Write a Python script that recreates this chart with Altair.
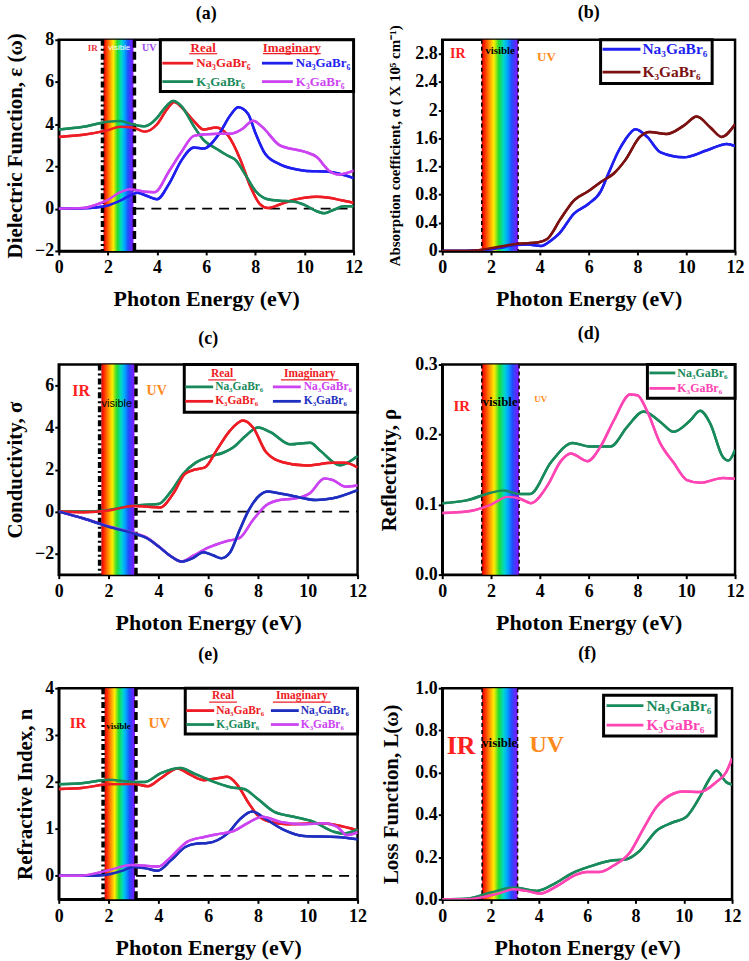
import altair as alt
import pandas as pd

SERIF = "Liberation Serif"
SANS = "Liberation Sans"
NA = "Na\u2083GaBr\u2086"
K = "K\u2083GaBr\u2086"

RED = "#ee1c25"; GREEN = "#198a5b"; BLUE = "#1f1ff0"; VIOLET = "#cc44f2"
MAROON = "#7b1111"; NAVY = "#1e2fc0"; PINK = "#ff45b3"; ORANGE = "#ff8a1c"

# ---------------- (a) dielectric function ----------------
a_re_na_x = [0, 1, 2, 2.5, 3, 3.5, 4, 4.4, 4.7, 5, 5.5, 5.9, 6.4, 6.9, 7.4, 7.8, 8.2, 8.5, 9, 9.5, 10, 10.5, 11, 11.5, 12]
a_re_na_y = [3.4, 3.5, 3.72, 3.88, 3.85, 3.65, 4.0, 4.7, 5.05, 4.8, 4.15, 3.75, 3.85, 3.45, 2.3, 1.05, 0.2, 0.03, 0.2, 0.4, 0.52, 0.57, 0.52, 0.4, 0.28]
a_re_k_x = [0, 1, 2, 2.5, 3, 3.5, 4, 4.3, 4.65, 5, 5.5, 5.9, 6.4, 6.9, 7.2, 7.6, 8.0, 8.5, 9, 9.5, 10, 10.5, 10.8, 11.2, 11.6, 12]
a_re_k_y = [3.75, 3.88, 4.12, 4.15, 4.0, 3.9, 4.3, 4.75, 5.1, 4.85, 3.9, 3.25, 2.85, 2.5, 2.3, 1.6, 0.85, 0.45, 0.38, 0.35, 0.18, -0.12, -0.22, -0.05, 0.12, 0.12]
a_im_na_x = [0, 1, 1.5, 2, 2.5, 3, 3.2, 3.6, 4, 4.5, 5, 5.5, 5.9, 6.5, 7, 7.3, 7.7, 8.0, 8.4, 9, 9.5, 10, 11, 12]
a_im_na_y = [0, 0.02, 0.06, 0.15, 0.38, 0.68, 0.75, 0.6, 0.45, 1.2, 2.3, 2.9, 2.85, 3.5, 4.45, 4.8, 4.5, 3.6, 2.6, 2.1, 1.9, 1.8, 1.75, 1.45]
a_im_k_x = [0, 1, 1.5, 2, 2.5, 2.9, 3.5, 3.9, 4.5, 5, 5.5, 6, 6.5, 7, 7.5, 7.9, 8.3, 9, 10, 10.5, 11, 11.4, 12]
a_im_k_y = [0, 0.03, 0.18, 0.42, 0.78, 0.92, 0.8, 0.78, 1.8, 2.7, 3.45, 3.52, 3.55, 3.55, 3.8, 4.17, 3.85, 3.0, 2.7, 2.45, 1.8, 1.62, 1.8]

# ---------------- (b) absorption ----------------
b_na_x = [0, 1, 1.5, 2, 2.5, 3, 3.5, 4.05, 4.5, 4.8, 5.4, 6, 6.5, 6.75, 7.24, 7.5, 7.92, 8.4, 8.95, 9.9, 10.85, 11.66, 12]
b_na_y = [0, 0, 0.005, 0.02, 0.05, 0.085, 0.09, 0.07, 0.16, 0.25, 0.53, 0.67, 0.85, 1.05, 1.43, 1.58, 1.73, 1.62, 1.4, 1.33, 1.43, 1.52, 1.49]
b_k_x = [0, 1, 1.5, 2, 2.5, 3, 3.5, 3.9, 4.3, 4.86, 5.4, 5.95, 6.5, 7.03, 7.5, 8.1, 8.5, 9.2, 9.9, 10.43, 11, 11.45, 12]
b_k_y = [0, 0, 0.01, 0.04, 0.07, 0.1, 0.11, 0.12, 0.17, 0.46, 0.72, 0.84, 0.98, 1.1, 1.29, 1.62, 1.69, 1.66, 1.78, 1.91, 1.75, 1.62, 1.8]

# ---------------- (c) conductivity ----------------
c_re_na_x = [0, 1, 2, 3, 3.5, 4, 4.5, 5, 5.5, 6, 6.6, 7, 7.5, 8, 8.5, 9.3, 10.1, 10.5, 11.3, 11.5, 12]
c_re_na_y = [0, 0.0, 0.08, 0.28, 0.33, 0.36, 0.95, 1.8, 2.33, 2.6, 2.8, 3.05, 3.6, 4.0, 3.78, 3.2, 3.28, 2.9, 2.2, 2.27, 2.65]
c_re_k_x = [0, 1, 2, 3, 3.5, 4.07, 4.6, 5.07, 5.47, 5.87, 6.33, 6.87, 7.4, 7.8, 8.33, 9, 9.93, 11, 11.5, 12]
c_re_k_y = [0, -0.03, 0.05, 0.27, 0.24, 0.2, 0.86, 1.8, 2.0, 2.1, 2.9, 3.84, 4.33, 4.0, 2.82, 2.35, 2.19, 2.32, 2.32, 2.1]
c_im_na_x = [0, 1, 2, 3, 3.5, 4, 4.47, 4.93, 5.4, 6, 6.73, 7.27, 7.8, 8.33, 8.87, 9.53, 10.07, 10.67, 11, 11.53, 12]
c_im_na_y = [0, -0.33, -0.7, -1.02, -1.22, -1.65, -2.1, -2.38, -2.1, -1.72, -1.41, -1.25, -0.4, 0.3, 0.55, 0.63, 0.86, 1.57, 1.5, 1.18, 1.25]
c_im_k_x = [0, 1, 2, 3, 3.5, 4, 4.47, 4.93, 5.4, 5.8, 6.2, 6.53, 6.87, 7.27, 7.6, 8.07, 8.4, 8.73, 9.4, 10.33, 11, 12]
c_im_k_y = [0, -0.33, -0.72, -1.04, -1.24, -1.65, -2.1, -2.38, -2.2, -1.93, -2.08, -2.22, -1.96, -0.86, 0, 0.78, 0.96, 0.9, 0.74, 0.55, 0.63, 1.02]

# ---------------- (d) reflectivity ----------------
d_na_x = [0, 1, 2, 2.5, 3.2, 3.6, 4.45, 5.35, 6, 6.9, 7.58, 8.26, 8.94, 9.48, 10.16, 10.57, 10.98, 11.5, 11.73, 12]
d_na_y = [0.102, 0.106, 0.117, 0.12, 0.115, 0.115, 0.16, 0.188, 0.183, 0.183, 0.211, 0.233, 0.218, 0.204, 0.22, 0.234, 0.216, 0.168, 0.163, 0.178]
d_k_x = [0, 1, 2, 2.68, 3.22, 3.63, 4.31, 4.86, 5.27, 5.95, 6.49, 7.03, 7.7, 8.0, 8.39, 8.94, 9.48, 10.03, 10.57, 11.5, 12]
d_k_y = [0.088, 0.09, 0.1, 0.111, 0.108, 0.102, 0.127, 0.162, 0.173, 0.162, 0.183, 0.22, 0.257, 0.256, 0.234, 0.187, 0.16, 0.135, 0.131, 0.138, 0.137]

# ---------------- (e) refractive index ----------------
e_re_na_x = [0, 1, 2, 3, 3.57, 4.1, 4.77, 5.3, 5.84, 6.37, 6.77, 7.17, 7.64, 7.97, 8.5, 9.17, 10.5, 11.17, 12]
e_re_na_y = [1.85, 1.88, 1.95, 1.96, 1.91, 2.08, 2.29, 2.15, 2.04, 2.08, 2.11, 1.94, 1.54, 1.3, 1.15, 1.1, 1.12, 1.08, 0.97]
e_re_k_x = [0, 1, 2, 3, 3.44, 4.1, 4.9, 5.44, 6.1, 6.9, 7.44, 7.97, 8.64, 9.44, 10.24, 11.04, 11.44, 12]
e_re_k_y = [1.95, 1.98, 2.05, 2.0, 2.0, 2.19, 2.3, 2.18, 2.03, 1.89, 1.85, 1.65, 1.37, 1.26, 1.15, 0.94, 0.9, 0.99]
e_im_na_x = [0, 1, 1.84, 2.5, 3, 3.5, 3.97, 4.5, 5.1, 5.57, 5.97, 6.77, 7.3, 7.77, 8.37, 9.04, 9.84, 11.17, 12]
e_im_na_y = [0, 0, 0.02, 0.1, 0.19, 0.16, 0.11, 0.33, 0.62, 0.69, 0.7, 0.9, 1.22, 1.37, 1.19, 0.98, 0.85, 0.83, 0.78]
e_im_k_x = [0, 1, 2, 2.9, 3.57, 4, 4.5, 5.17, 5.84, 6.5, 7.04, 7.57, 8.17, 8.9, 9.84, 10.64, 11.17, 11.57, 12]
e_im_k_y = [0, 0.01, 0.12, 0.23, 0.21, 0.2, 0.4, 0.73, 0.83, 0.9, 0.96, 1.12, 1.26, 1.15, 1.1, 1.12, 1.05, 0.87, 0.93]

# ---------------- (f) loss function ----------------
f_na_x = [0, 1, 2, 2.96, 3.92, 4.6, 5.43, 6.12, 6.95, 7.63, 8.18, 8.87, 9.56, 10.1, 10.66, 11.07, 11.35, 11.76, 12]
f_na_y = [0, 0.003, 0.032, 0.056, 0.04, 0.071, 0.127, 0.156, 0.183, 0.19, 0.23, 0.325, 0.365, 0.39, 0.484, 0.571, 0.61, 0.555, 0.543]
f_k_x = [0, 1, 1.58, 2.4, 2.96, 3.5, 4.06, 4.75, 5.5, 5.98, 6.53, 7.08, 7.77, 8.32, 8.87, 9.56, 9.97, 10.66, 11.35, 11.76, 12]
f_k_y = [0, 0, 0.008, 0.03, 0.048, 0.04, 0.027, 0.063, 0.115, 0.13, 0.13, 0.159, 0.222, 0.333, 0.437, 0.5, 0.511, 0.508, 0.556, 0.603, 0.667]

X_TICKS = [0, 2, 4, 6, 8, 10, 12]
SPECTRUM = [(0.0, "#e00000"), (0.08, "#ff2a00"), (0.2, "#ff8c00"), (0.33, "#ffee00"),
            (0.47, "#22dd33"), (0.6, "#00d8c8"), (0.7, "#00a8ff"), (0.82, "#2050ff"),
            (0.92, "#5a2cff"), (1.0, "#8a10ff")]

ONE = pd.DataFrame({"o": [0]})


def series_df(series):
    rows = []
    for name, xs, ys in series:
        for x, y in zip(xs, ys):
            rows.append({"E": x, "v": y, "s": name})
    return pd.DataFrame(rows)


def txt_data(x, y, text, color, size, font=SERIF, weight="bold"):
    return alt.Chart(ONE).mark_text(text=text, color=color, fontSize=size, font=font,
                                    fontWeight=weight, baseline="middle").encode(
        x=alt.datum(x), y=alt.datum(y))


def txt_px(x, y, text, color, size, align="left", weight="bold"):
    return alt.Chart(ONE).mark_text(text=text, color=color, fontSize=size, font=SERIF,
                                    fontWeight=weight, align=align, baseline="middle").encode(
        x=alt.value(x), y=alt.value(y))


def rule_px(x1, x2, y, color, width=2.5):
    return alt.Chart(ONE).mark_rule(color=color, strokeWidth=width).encode(
        x=alt.value(x1), x2=alt.value(x2), y=alt.value(y))


def box_px(x1, x2, y1, y2):
    return alt.Chart(ONE).mark_rect(fill="white", stroke="black", strokeWidth=3).encode(
        x=alt.value(x1), x2=alt.value(x2), y=alt.value(y1), y2=alt.value(y2))


def legend4(w, box_l, y_bot, hdr_y, hdr_real, hdr_imag, r1, r2, l1, t1, l2, t2, size, entries):
    # all x given as offsets from the right edge of the plot
    lay = [box_px(w - box_l, w, 0, y_bot)]
    lay.append(txt_px(w - hdr_real, hdr_y, "Real", RED, size, align="center"))
    lay.append(txt_px(w - hdr_imag, hdr_y, "Imaginary", RED, size, align="center"))
    lay.append(rule_px(w - hdr_real - 14, w - hdr_real + 14, hdr_y + 6, RED, 1.2))
    lay.append(rule_px(w - hdr_imag - 29, w - hdr_imag + 29, hdr_y + 6, RED, 1.2))
    spots = [(r1, l1, t1), (r1, l2, t2), (r2, l1, t1), (r2, l2, t2)]
    for (c, lab), (ly, lx, tx) in zip(entries, spots):
        lay.append(rule_px(w - lx[0], w - lx[1], ly, c, 2.8))
        lay.append(txt_px(w - tx, ly, lab, c, size))
    return lay


def legend2(w, box, rows, line_x, text_x, size, entries):
    lay = [box_px(w - box[0], w - box[1], box[2], box[3])]
    for (c, lab), ly in zip(entries, rows):
        lay.append(rule_px(w - line_x[0], w - line_x[1], ly, c, 2.8))
        lay.append(txt_px(w - text_x, ly, lab, c, size))
    return lay


def panel(w, h, title, title_dy, ytitle, ydomain, yticks, yfmt, series, colors, band, borders,
          thick, zero, annots, legend, ytitle_size=21, ytitle_pad=9):
    xs = alt.Scale(domain=[0, 12], nice=False)
    ys = alt.Scale(domain=ydomain, nice=False)
    df = series_df(series)
    names = [s[0] for s in series]
    grad = alt.Gradient(gradient="linear", x1=0, x2=1, y1=0, y2=0,
                        stops=[alt.GradientStop(color=c, offset=o) for o, c in SPECTRUM])
    yaxis = alt.Axis(values=yticks, tickCount=len(yticks) + 2, title=ytitle,
                     titleFontSize=ytitle_size, format=yfmt,
                     titlePadding=ytitle_pad, labelOverlap=False, labelSeparation=0)
    xaxis = alt.Axis(values=X_TICKS, tickCount=len(X_TICKS) + 2, title="Photon Energy (eV)",
                     labelOverlap=False)
    layers = []
    layers.append(alt.Chart(df).mark_line(strokeWidth=2.5, interpolate="monotone", clip=True).encode(
        x=alt.X("E:Q", scale=xs, axis=xaxis),
        y=alt.Y("v:Q", scale=ys, axis=yaxis),
        color=alt.Color("s:N", scale=alt.Scale(domain=names, range=colors), legend=None)))
    layers.append(alt.Chart(ONE).mark_rect(fill=grad).encode(
        x=alt.datum(band[0]), x2=alt.datum(band[1]), y=alt.value(0), y2=alt.value(h)))
    if thick:
        dashes = [[6, 3, 2, 3], [8, 4]]
        bw = 3.5
    else:
        dashes = [[4, 3], [4, 3]]
        bw = 1.5
    for bx, dsh in zip(borders, dashes):
        layers.append(alt.Chart(ONE).mark_rule(color="black", strokeWidth=bw, strokeDash=dsh).encode(
            x=alt.datum(bx), y=alt.value(0), y2=alt.value(h)))
    if zero:
        layers.append(alt.Chart(ONE).mark_rule(color="black", strokeWidth=1.8, strokeDash=[10, 7]).encode(
            x=alt.datum(borders[1]), x2=alt.datum(12), y=alt.datum(0, axis=yaxis)))
    # redraw curves above the band
    layers.append(alt.Chart(df).mark_line(strokeWidth=2.5, interpolate="monotone", clip=True).encode(
        x=alt.X("E:Q", scale=xs, axis=xaxis),
        y=alt.Y("v:Q", scale=ys, axis=yaxis),
        color=alt.Color("s:N", scale=alt.Scale(domain=names, range=colors), legend=None)))
    for a in annots:
        layers.append(txt_data(*a))
    layers += legend
    layers.append(txt_px(w / 2, title_dy, title, "black", 18, align="center"))
    return alt.layer(*layers).properties(width=w, height=h)


WA, WB, WC, WD, WE, WF = 296, 294, 300, 294, 300, 291
H1, H2, H3 = 212, 211, 212

pa = panel(WA, H1, "(a)", -26, "Dielectric Function, \u03b5 (\u03c9)", [-2, 8], [-2, 0, 2, 4, 6, 8], "d",
           [("re_na", a_re_na_x, a_re_na_y), ("re_k", a_re_k_x, a_re_k_y),
            ("im_na", a_im_na_x, a_im_na_y), ("im_k", a_im_k_x, a_im_k_y)],
           [RED, GREEN, BLUE, VIOLET], (1.82, 3.04), (1.78, 3.08), True, True,
           [(1.38, 7.6, "IR", "#e8383d", 9), (2.46, 7.6, "visible", "white", 8, SANS, "normal"),
            (3.68, 7.6, "UV", "#a046f0", 10)],
           legend4(WA, 194, 52, 8, 151, 62, 23.5, 42, (192, 161), 158, (92, 61), 58, 13,
                   [(RED, NA), (BLUE, NA), (GREEN, K), (VIOLET, K)]))

pb = panel(WB, H1, "(b)", -27, "Absorption coefficient, \u03b1 ( X 10\u2075 cm\u207b\u00b9)", [0, 3],
           [0, 0.4, 0.8, 1.2, 1.6, 2.0, 2.4, 2.8], ".1~f",
           [("na", b_na_x, b_na_y), ("k", b_k_x, b_k_y)], [BLUE, MAROON],
           (1.62, 3.11), (1.62, 3.11), False, False,
           [(0.64, 2.8, "IR", "#ff2020", 14), (2.37, 2.84, "visible", "black", 11),
            (4.27, 2.76, "UV", ORANGE, 13)],
           legend2(WB, (135, 23, 0, 44), [9.5, 32.5], (133, 95), 93, 15.5,
                   [(BLUE, NA), (MAROON, K)]), ytitle_size=15, ytitle_pad=12)

pc = panel(WC, H2, "(c)", -26, "Conductivity, \u03c3", [-3, 7], [-2, 0, 2, 4, 6], "d",
           [("re_na", c_re_na_x, c_re_na_y), ("re_k", c_re_k_x, c_re_k_y),
            ("im_na", c_im_na_x, c_im_na_y), ("im_k", c_im_k_x, c_im_k_y)],
           [GREEN, RED, VIOLET, NAVY], (1.71, 3.04), (1.64, 3.1), True, True,
           [(0.9, 5.75, "IR", "#ff2020", 16), (2.33, 5.1, "visible", "black", 11, SANS, "normal"),
            (3.93, 5.75, "UV", ORANGE, 14)],
           legend4(WC, 174, 48, 9.5, 136, 48, 22.5, 37, (173, 145), 143, (85, 57), 54, 11.5,
                   [(GREEN, NA), (VIOLET, NA), (RED, K), (NAVY, K)]))

pd_ = panel(WD, H2, "(d)", -31, "Reflectivity, \u03c1", [0, 0.3], [0, 0.1, 0.2, 0.3], ".1f",
            [("na", d_na_x, d_na_y), ("k", d_k_x, d_k_y)], [GREEN, PINK],
            (1.62, 3.15), (1.62, 3.15), False, False,
            [(0.8, 0.241, "IR", "#ff2020", 15), (2.37, 0.246, "visible", "black", 13),
             (4.04, 0.25, "UV", ORANGE, 9)],
            legend2(WD, (88, 0, 0, 34), [8.5, 24], (86, 60), 58, 12,
                    [(GREEN, NA), (PINK, K)]), ytitle_pad=15)

pe = panel(WE, H3, "(e)", -33, "Refractive Index, n", [-0.5, 4], [0, 1, 2, 3, 4], "d",
           [("re_na", e_re_na_x, e_re_na_y), ("re_k", e_re_k_x, e_re_k_y),
            ("im_na", e_im_na_x, e_im_na_y), ("im_k", e_im_k_x, e_im_k_y)],
           [RED, GREEN, NAVY, VIOLET], (1.84, 3.06), (1.78, 3.1), True, True,
           [(0.77, 3.25, "IR", "#ff2020", 15), (2.4, 3.2, "visible", "black", 9),
            (4.04, 3.25, "UV", ORANGE, 15)],
           legend4(WE, 173, 46, 8, 135, 56, 22.5, 36.5, (172, 144), 142, (87, 59), 57, 11.5,
                   [(RED, NA), (NAVY, NA), (GREEN, K), (VIOLET, K)]))

pf = panel(WF, H3, "(f)", -34, "Loss Function, L(\u03c9)", [0, 1], [0, 0.2, 0.4, 0.6, 0.8, 1.0], ".1f",
           [("na", f_na_x, f_na_y), ("k", f_k_x, f_k_y)], [GREEN, PINK],
           (1.65, 3.12), (1.65, 3.12), False, False,
           [(0.78, 0.727, "IR", "#ff2020", 26), (2.38, 0.74, "visible", "black", 13),
            (4.33, 0.73, "UV", ORANGE, 24)],
           legend2(WF, (129, 16, 7, 48), [17.5, 37], (126, 89), 86, 15.5,
                   [(GREEN, NA), (PINK, K)]), ytitle_pad=13)

chart = alt.concat(pa, pb, pc, pd_, pe, pf, columns=2, bounds="flush",
                   spacing={"row": 114, "column": 85}).resolve_scale(color="independent")

chart = chart.configure_view(
    stroke="black", strokeWidth=2.5
).configure_axis(
    labelFont=SERIF, labelFontWeight="bold", labelFontSize=18, labelColor="black",
    titleFont=SERIF, titleFontWeight="bold", titleColor="black",
    domainColor="black", domainWidth=2.5, tickColor="black", tickWidth=2, tickSize=4,
    grid=False, labelFlush=False, labelOverlap=False
).configure_axisX(
    labelPadding=4, titlePadding=12, titleFontSize=22
).configure_axisY(
    labelPadding=1
).properties(padding={"left": 3, "top": 0, "right": 3, "bottom": 3}, background="white")

chart.save("out.html", embed_options={"renderer": "svg", "actions": False})
